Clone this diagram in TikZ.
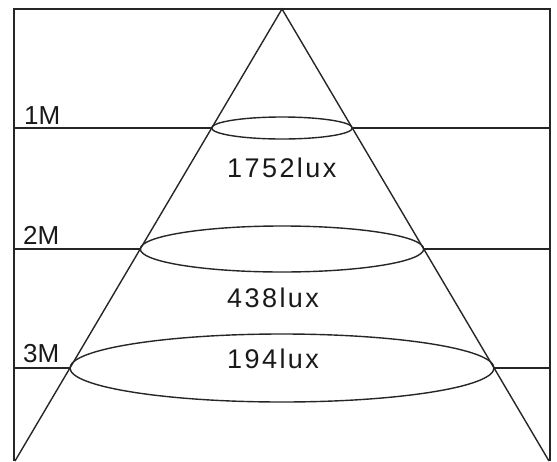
\documentclass[tikz,border=0pt]{standalone}
\usepackage{fontspec}
\setmainfont{Liberation Sans}
\begin{document}
\begin{tikzpicture}[x=1pt,y=-1pt,
  ln/.style={line width=1.4pt,draw=black!85},
  lbl/.style={inner sep=0pt,anchor=base west,text=black!90,font=\fontsize{26pt}{30pt}\selectfont},
  lux/.style={inner sep=0pt,anchor=base west,text=black!90,font=\fontsize{27pt}{30pt}\selectfont\addfontfeature{LetterSpace=9}}]
\useasboundingbox (0,0) rectangle (557,461);
% frame
\coordinate (tl) at (14,9);
\coordinate (tr) at (550,9);
\coordinate (bl) at (14,461);
\coordinate (br) at (550,461);
\coordinate (apex) at (282,9);
\coordinate (cl) at (15,461);
\coordinate (cr) at (549,461);
\draw[ln] (bl) -- (tl) -- (tr) -- (br);
% cone
\draw[ln] (cl) -- (apex) -- (cr);
% level points
\coordinate (l1) at (14,128);  \coordinate (a1) at (211.7,128); \coordinate (b1) at (352.3,128); \coordinate (r1) at (550,128);
\coordinate (l2) at (14,249);  \coordinate (a2) at (140.3,249); \coordinate (b2) at (423.7,249); \coordinate (r2) at (550,249);
\coordinate (l3) at (14,368);  \coordinate (a3) at (70,368);    \coordinate (b3) at (494,368);   \coordinate (r3) at (550,368);
\draw[ln] (l1) -- (a1) (b1) -- (r1);
\draw[ln] (l2) -- (a2) (b2) -- (r2);
\draw[ln] (l3) -- (a3) (b3) -- (r3);
% ellipses
\draw[ln] (282,128) ellipse [x radius=70.3, y radius=11];
\draw[ln] (282,249) ellipse [x radius=141.7, y radius=23];
\draw[ln] (282,368) ellipse [x radius=212, y radius=34];
% labels
\node[lbl] (m1) at (24,124) {1M};
\node[lbl] (m2) at (23,244) {2M};
\node[lbl] (m3) at (23,362) {3M};
\node[lux] (t1) at (227,177) {1752lux};
\node[lux] (t2) at (227,307) {438lux};
\node[lux] (t3) at (227,368) {194lux};
\end{tikzpicture}
\end{document}
